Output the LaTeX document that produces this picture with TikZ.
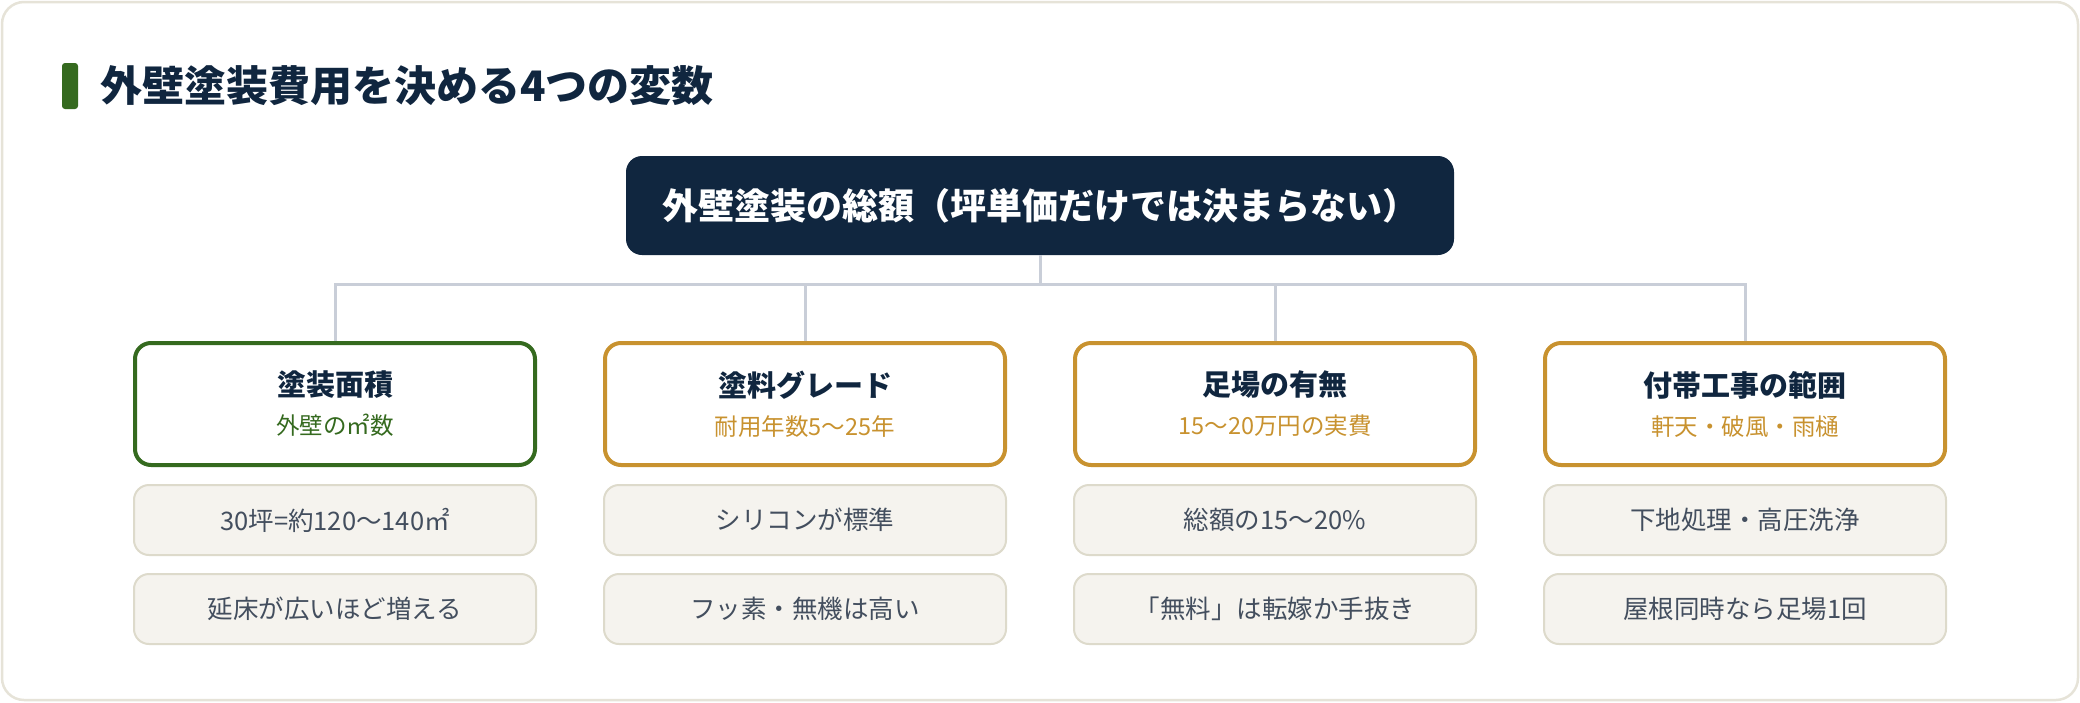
\documentclass[tikz,border=0pt]{standalone}
\usepackage{fontspec}
\setmainfont{Noto Sans CJK JP}
\usepackage{tikz}
\usetikzlibrary{positioning}
\definecolor{navy}{HTML}{10263F}
\definecolor{leaf}{HTML}{356A1F}
\definecolor{gold}{HTML}{C8922F}
\definecolor{wire}{HTML}{C9CED8}
\definecolor{paper}{HTML}{F5F3EE}
\definecolor{paperline}{HTML}{DDDACB}
\definecolor{cardline}{HTML}{E6E3D8}
\definecolor{note}{HTML}{434E5E}
\tikzset{catbox/.style={draw,line width=4pt,rounded corners=16pt,fill=white,
minimum width=400pt,minimum height=122pt,inner sep=0pt,align=center,
font=\fontsize{23.5}{39}\selectfont},
detail/.style={draw=paperline,line width=2pt,rounded corners=15pt,fill=paper,
minimum width=402pt,minimum height=70pt,inner sep=0pt,text=note,
font=\fontsize{25.5}{30}\selectfont}}
\tikzstyle{topbox}    = [fill=navy, rounded corners=16pt, minimum width=828pt, minimum height=99pt, text=white, font=\bfseries\fontsize{36}{42}\selectfont]
\newcommand{\cattitle}[1]{{\bfseries\color{navy}\fontsize{29}{39}\selectfont #1}}

\begin{document}
\begin{tikzpicture}[x=1pt,y=-1pt,
			level distance=198.5pt,
			level 1/.style={sibling distance=470pt},
			edge from parent/.style={draw=wire,line width=3pt},
			edge from parent path={(\tikzparentnode.south) -- ++(0pt,-29pt) -| (\tikzchildnode.north)}
		]
		\useasboundingbox (0,0) rectangle (2080,702);
		\draw[draw=cardline,line width=2.5pt,fill=white,rounded corners=22pt] (2,2) rectangle (2078,700);
		% heading
		\node[fill=leaf,rounded corners=3pt,minimum width=16pt,minimum height=46pt,inner sep=0pt] (mark) at (70,86) {};
		\node[right=22pt of mark,inner sep=0pt,text=navy,font=\bfseries\fontsize{42}{48}\selectfont] (heading) {外壁塗装費用を決める4つの変数};
		% tree
		\node[topbox] (total) at (1040,205.5) {外壁塗装の総額（坪単価だけでは決まらない）}
		child {
				node[catbox,draw=leaf] (area) {\cattitle{塗装面積}\\{\color{leaf}外壁の㎡数}}
			}
		child {
				node[catbox,draw=gold] (paint) {\cattitle{塗料グレード}\\{\color{gold}耐用年数5〜25年}}
			}
		child {
				node[catbox,draw=gold] (scaffold) {\cattitle{足場の有無}\\{\color{gold}15〜20万円の実費}}
			}
		child {
				node[catbox,draw=gold] (extra) {\cattitle{付帯工事の範囲}\\{\color{gold}軒天・破風・雨樋}}
			};
		% details
		\node[detail,below=17pt of area] (area1) {30坪=約120〜140㎡};
		\node[detail,below=17pt of area1] (area2) {延床が広いほど増える};
		\node[detail,below=17pt of paint] (paint1) {シリコンが標準};
		\node[detail,below=17pt of paint1] (paint2) {フッ素・無機は高い};
		\node[detail,below=17pt of scaffold] (scaffold1) {総額の15〜20\%};
		\node[detail,below=17pt of scaffold1] (scaffold2) {「無料」は転嫁か手抜き};
		\node[detail,below=17pt of extra] (extra1) {下地処理・高圧洗浄};
		\node[detail,below=17pt of extra1] (extra2) {屋根同時なら足場1回};
	\end{tikzpicture}
\end{document}
